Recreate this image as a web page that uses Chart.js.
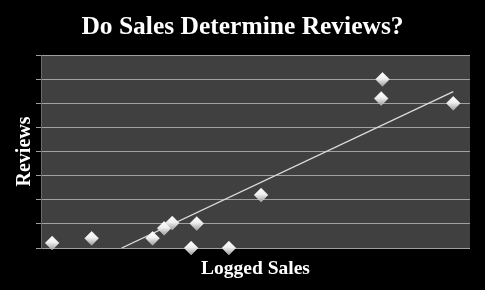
<!DOCTYPE html>
<html>
<head>
<meta charset="utf-8">
<script src="https://cdn.jsdelivr.net/npm/chart.js@4"></script>
<style>
  html, body { margin: 0; padding: 0; background: #000; }
  #wrap { width: 485px; height: 290px; }
</style>
</head>
<body>
<div id="wrap"><canvas id="c"></canvas></div>
<script>
// logged sales (x) and reviews (y)
var salesX = [2.6, 11.8, 26.0, 28.7, 30.6, 36.3, 35.0, 43.8, 51.3, 79.6, 79.3, 96.1];
var reviewsY = [0.21, 0.40, 0.40, 0.82, 1.04, 1.02, 0, 0, 2.20, 6.99, 6.20, 6.00];

// linear trendline end points
var trendX = [18.8, 96.1];
var trendY = [0, 6.48];

var serif = "'Liberation Serif', 'DejaVu Serif', serif";

var plotBg = {
  id: 'plotBg',
  beforeDraw: function(chart) {
    let a = chart.chartArea;
    let ctx = chart.ctx;
    ctx.save();
    ctx.fillStyle = '#404040';
    ctx.fillRect(a.left, a.top, a.right - a.left, a.bottom - a.top);
    ctx.restore();
  }
};

function pts(xs, ys) {
  return xs.map(function(x, i) { return {x: x, y: ys[i]}; });
}

// shaded diamonds, light on top, grey at the bottom
function diamondFill(context) {
  let chart = context.chart;
  let p = context.parsed;
  if (!p || !chart.scales.y) return '#e4e4e4';
  let py = chart.scales.y.getPixelForValue(p.y);
  if (!isFinite(py)) return '#e4e4e4';
  let g = chart.ctx.createLinearGradient(0, py - 7, 0, py + 7);
  g.addColorStop(0, '#ffffff');
  g.addColorStop(0.45, '#f0f0f0');
  g.addColorStop(1, '#9c9c9c');
  return g;
}

new Chart(document.getElementById('c'), {
  type: 'scatter',
  plugins: [plotBg],
  data: {
    datasets: [
      {
        type: 'line',
        data: pts(trendX, trendY),
        borderColor: '#dcdcdc',
        borderWidth: 1.3,
        pointRadius: 0,
        fill: false,
        order: 2,
      },
      {
        data: pts(salesX, reviewsY),
        pointStyle: 'rectRot',
        pointRadius: 7,
        backgroundColor: diamondFill,
        borderColor: 'rgba(255,255,255,0.6)',
        borderWidth: 0.5,
        clip: false,
        order: 1,
      },
    ]
  },
  options: {
    responsive: true,
    maintainAspectRatio: false,
    animation: false,
    layout: {
      padding: 0
    },
    scales: {
      x: {
        type: 'linear',
        min: 0,
        max: 100,
        ticks: { display: false },
        grid: { display: false },
        border: { display: false },
        title: {
          display: true,
          text: 'Logged Sales',
          color: '#ffffff',
          font: { family: serif, size: 19.5, weight: 'bold' },
          padding: { top: 0, bottom: 9 },
        },
        afterFit: function(s) { s.height = 42; },
      },
      y: {
        min: 0,
        max: 8,
        ticks: { display: false, stepSize: 1 },
        grid: {
          color: '#a0a0a0',
          lineWidth: 1,
          drawTicks: true,
          tickLength: 5,
        },
        border: { display: true, color: '#6a6a6a' },
        title: {
          display: true,
          text: 'Reviews',
          color: '#ffffff',
          font: { family: serif, size: 20, weight: 'bold' },
          padding: { top: 13, bottom: 0 },
        },
        afterFit: function(s) { s.width = 41; },
      },
      // empty right-hand axis, only keeps a black margin on the right
      yRight: {
        position: 'right',
        min: 0,
        max: 8,
        ticks: { display: false },
        grid: { display: false },
        border: { display: false },
        afterFit: function(s) { s.width = 15; },
      },
    },
    plugins: {
      legend: { display: false },
      tooltip: { enabled: false },
      title: {
        display: true,
        text: 'Do Sales Determine Reviews?',
        color: '#ffffff',
        font: { family: serif, size: 25.5, weight: 'bold' },
        padding: { top: 12, bottom: 12.4 },
      },
    },
  },
});
</script>
</body>
</html>
